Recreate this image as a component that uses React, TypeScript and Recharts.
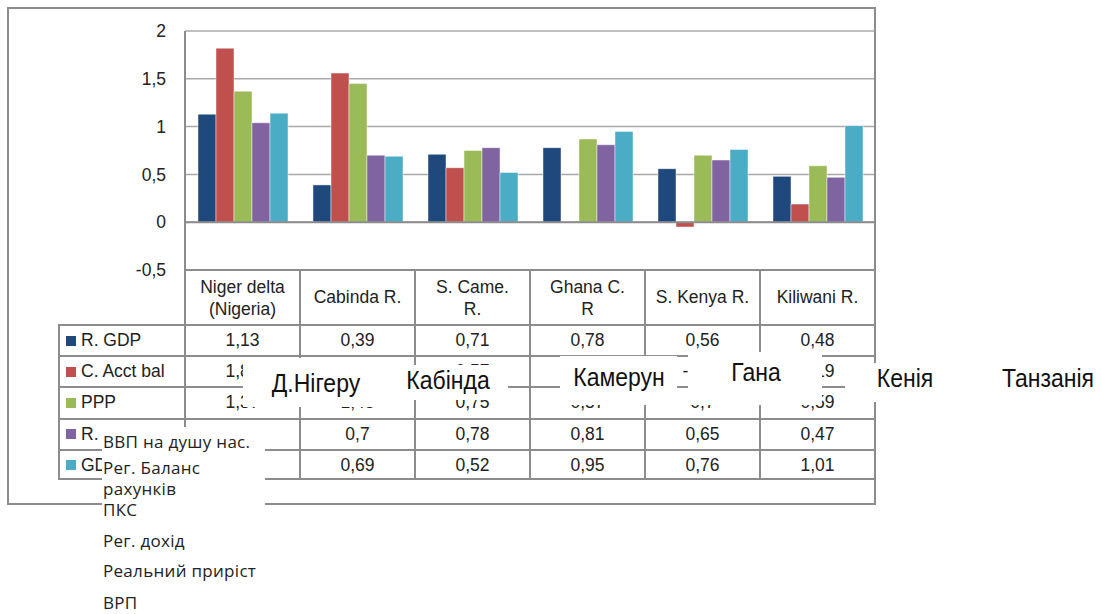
import React from 'react';
import { BarChart, Bar, XAxis, YAxis, CartesianGrid, ReferenceLine } from 'recharts';

// ---------------------------------------------------------------------------
// Data
// ---------------------------------------------------------------------------

const regions = ['Niger delta\n(Nigeria)', 'Cabinda R.', 'S. Came.\nR.', 'Ghana C.\nR', 'S. Kenya R.', 'Kiliwani R.'];
const seriesKeys = ['rGdp', 'cAcctBal', 'ppp', 'rIncome', 'gdp'];
const seriesNames = ['R. GDP', 'C. Acct bal', 'PPP', 'R. income', 'GDP'];
const rGdp = [1.13, 0.39, 0.71, 0.78, 0.56, 0.48];
const cAcctBal = [1.82, 1.56, 0.57, 0, -0.05, 0.19];
const ppp = [1.37, 1.45, 0.75, 0.87, 0.7, 0.59];
const rIncome = [1.04, 0.7, 0.78, 0.81, 0.65, 0.47];
const gdp = [1.14, 0.69, 0.52, 0.95, 0.76, 1.01];
const yTicks = [-0.5, 0, 0.5, 1, 1.5, 2];

// Ukrainian captions pasted over the chart
const regionsUk = ['Д.Нігеру', 'Кабінда', 'Камерун', 'Гана', 'Кенія', 'Танзанія'];
const indicatorsUk = ['ВВП на душу нас.', 'Рег. Баланс\nрахунків', 'ПКС', 'Рег. дохід', 'Реальний приріст', 'ВРП'];

// ---------------------------------------------------------------------------
// Layout / style
// ---------------------------------------------------------------------------

const COLORS = ['#1F497D', '#C0504D', '#9BBB59', '#8064A2', '#4BACC6'];
const PLOT_LEFT = 185;
const PLOT_RIGHT = 875;
const PLOT_TOP = 31;
const PLOT_BOTTOM = 270;
const HEADER_H = 54;
const ROW_H = 31.2;
const TABLE_LEFT = 58;
const COL_W = (PLOT_RIGHT - PLOT_LEFT) / regions.length;
const LINE = '#8c8c8c';
const FONT = "'Liberation Sans', Arial, sans-serif";
const TABLE_FS = 17.5;

const seriesValues = [rGdp, cAcctBal, ppp, rIncome, gdp];

const data = regions.map((region, i) => {
  const row: Record<string, string | number> = { region };
  seriesKeys.forEach((k, s) => {
    row[k] = seriesValues[s][i];
  });
  return row;
});

const fmt = (v: number) => String(v).replace('.', ',');

// white caption boxes: [left, top, width, height, textCenterX, textCenterY]
const ukBoxes = [
  [243, 358, 157, 49, 316, 383],
  [395, 365, 113, 35, 448, 380],
  [560, 356, 117, 49, 619, 377],
  [688, 352, 134, 53, 756, 372],
  [845, 363, 120, 39, 905, 378],
  [1000, 363, 102, 39, 1048, 378],
];

// line centres of the indicator captions (first line of each item)
const indicatorY = [442, 468, 510, 541, 571, 603];

// eslint-disable-next-line @typescript-eslint/no-explicit-any
const HeaderTick = ({ x, y, payload }: any) => {
  const lines = String(payload.value).split('\n');
  const startY = lines.length > 1 ? y + 23 : y + 33;
  return (
    <text x={x} y={startY} textAnchor="middle" fontSize={TABLE_FS} fill="#222" fontFamily={FONT}>
      {lines.map((l, i) => (
        <tspan key={i} x={x} dy={i === 0 ? 0 : 22}>
          {l}
        </tspan>
      ))}
    </text>
  );
};

export default function App() {
  const cellText: React.CSSProperties = {
    position: 'absolute',
    fontFamily: FONT,
    fontSize: TABLE_FS,
    color: '#222',
    lineHeight: `${ROW_H}px`,
    textAlign: 'center',
    whiteSpace: 'nowrap',
  };

  return (
    <div style={{ position: 'absolute', left: 0, top: 0, width: 1102, height: 614, background: '#fff', overflow: 'hidden' }}>
      {/* outer chart frame */}
      <div
        style={{
          position: 'absolute',
          left: 7,
          top: 7,
          width: PLOT_RIGHT - 7 + 1,
          height: 498,
          border: `2px solid ${LINE}`,
          boxSizing: 'border-box',
        }}
      />

      <div style={{ position: 'absolute', left: 0, top: 0 }}>
        <BarChart
          width={1102}
          height={614}
          data={data}
          margin={{ top: PLOT_TOP, right: 1102 - PLOT_RIGHT, bottom: 614 - PLOT_BOTTOM - HEADER_H, left: PLOT_LEFT - 60 }}
          barCategoryGap={13}
          barGap={0}
        >
          <CartesianGrid vertical={false} stroke="#a9a9a9" strokeWidth={1.5} />
          <XAxis
            dataKey="region"
            height={HEADER_H}
            interval={0}
            tickLine={false}
            tickSize={0}
            tickMargin={0}
            axisLine={{ stroke: LINE, strokeWidth: 2 }}
            tick={<HeaderTick />}
          />
          <YAxis
            width={60}
            domain={[-0.5, 2]}
            ticks={yTicks}
            interval={0}
            tickLine={false}
            tickSize={0}
            tickMargin={19}
            axisLine={{ stroke: LINE, strokeWidth: 2 }}
            tickFormatter={fmt}
            tick={{ fontSize: TABLE_FS, fill: '#222', fontFamily: FONT }}
          />
          <ReferenceLine y={0} stroke={LINE} strokeWidth={2} />
          {seriesKeys.map((k, s) => (
            <Bar
              key={k}
              dataKey={k}
              name={seriesNames[s]}
              fill={COLORS[s]}
              stroke="#ffffff"
              strokeOpacity={0.45}
              strokeWidth={1}
              isAnimationActive={false}
            />
          ))}
        </BarChart>
      </div>

      {/* right plot border */}
      <div style={{ position: 'absolute', left: PLOT_RIGHT - 1, top: PLOT_TOP, width: 2, height: PLOT_BOTTOM - PLOT_TOP, background: LINE }} />

      {/* data table: header column separators */}
      {[...regions, ''].map((_, i) => (
        <div
          key={`hs${i}`}
          style={{
            position: 'absolute',
            left: PLOT_LEFT + i * COL_W - 1,
            top: PLOT_BOTTOM,
            width: 2,
            height: HEADER_H,
            background: LINE,
          }}
        />
      ))}

      {/* data table body */}
      {seriesNames.map((name, s) => {
        const top = PLOT_BOTTOM + HEADER_H + s * ROW_H;
        return (
          <React.Fragment key={name}>
            <div
              style={{
                position: 'absolute',
                left: TABLE_LEFT,
                top,
                width: PLOT_RIGHT - TABLE_LEFT,
                height: ROW_H,
                borderTop: `2px solid ${LINE}`,
                borderLeft: `2px solid ${LINE}`,
                borderBottom: s === seriesNames.length - 1 ? `2px solid ${LINE}` : 'none',
                boxSizing: 'border-box',
              }}
            />
            <div
              style={{
                position: 'absolute',
                left: TABLE_LEFT + 8,
                top: top + ROW_H / 2 - 4,
                width: 10,
                height: 10,
                background: COLORS[s],
              }}
            />
            <div style={{ ...cellText, left: TABLE_LEFT + 23, top: top + 1, textAlign: 'left' }}>{name}</div>
            {seriesValues[s].map((v, i) => (
              <div key={i} style={{ ...cellText, left: PLOT_LEFT + i * COL_W, top: top + 1, width: COL_W }}>
                {fmt(v)}
              </div>
            ))}
            {[...regions, ''].map((_, i) => (
              <div
                key={`vs${i}`}
                style={{
                  position: 'absolute',
                  left: PLOT_LEFT + i * COL_W - 1,
                  top,
                  width: 2,
                  height: ROW_H,
                  background: LINE,
                }}
              />
            ))}
          </React.Fragment>
        );
      })}

      {/* Ukrainian region captions */}
      {regionsUk.map((t, i) => {
        const [l, tp, w, h, cx, cy] = ukBoxes[i];
        return (
          <React.Fragment key={t}>
            <div style={{ position: 'absolute', left: l, top: tp, width: w, height: h, background: '#fff' }} />
            <div
              style={{
                position: 'absolute',
                left: cx - 100,
                top: cy - 20,
                width: 200,
                height: 40,
                lineHeight: '40px',
                textAlign: 'center',
                fontFamily: FONT,
                fontSize: 25,
                color: '#111',
                transform: 'scaleX(0.92)',
                whiteSpace: 'nowrap',
              }}
            >
              {t}
            </div>
          </React.Fragment>
        );
      })}

      {/* Ukrainian indicator captions */}
      <div style={{ position: 'absolute', left: 102, top: 427, width: 163, height: 187, background: '#fff' }} />
      {indicatorsUk.map((t, i) => (
        <div
          key={t}
          style={{
            position: 'absolute',
            left: 103,
            top: indicatorY[i] - 11,
            lineHeight: '21px',
            fontFamily: "'Open Sans', 'Noto Sans', sans-serif",
            fontSize: 17,
            letterSpacing: 0.3,
            color: '#222',
            whiteSpace: 'pre-line',
          }}
        >
          {t}
        </div>
      ))}
    </div>
  );
}
